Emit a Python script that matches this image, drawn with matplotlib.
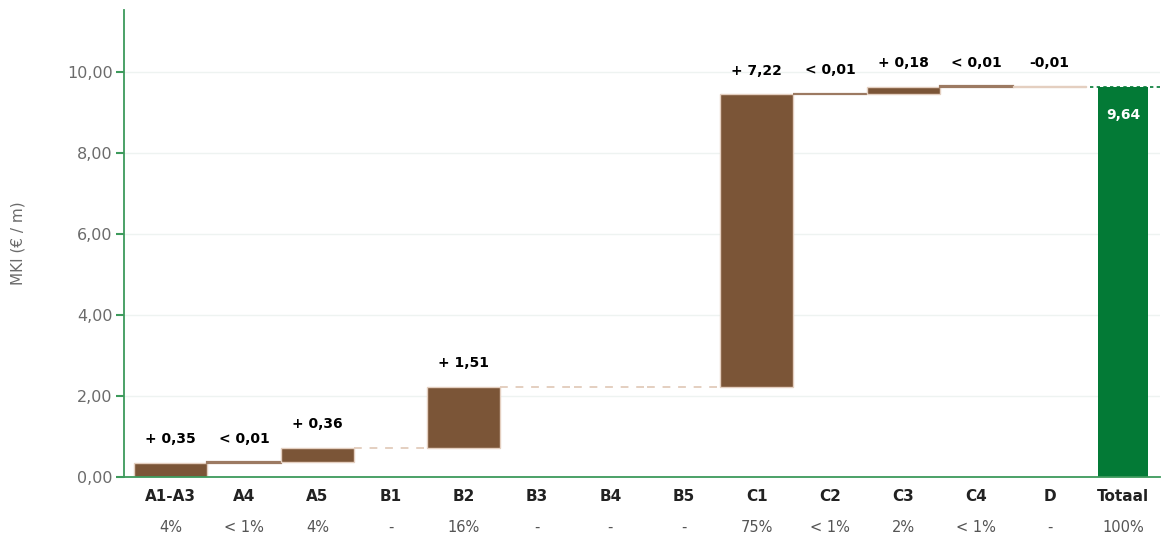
import numpy as np
import matplotlib
matplotlib.use('Agg')
from matplotlib import pyplot as plt
from matplotlib.ticker import FuncFormatter
import matplotlib.transforms as mtransforms

# Data
categories = ['A1-A3', 'A4', 'A5', 'B1', 'B2', 'B3', 'B4', 'B5', 'C1', 'C2', 'C3', 'C4', 'D']
deltas = [0.35, 0.01, 0.36, 0.0, 1.51, 0.0, 0.0, 0.0, 7.22, 0.01, 0.18, 0.01, -0.01]
delta_labels = ['+ 0,35', '< 0,01', '+ 0,36', '', '+ 1,51', '', '', '', '+ 7,22', '< 0,01', '+ 0,18', '< 0,01', '-0,01']
shares = ['4%', '< 1%', '4%', '-', '16%', '-', '-', '-', '75%', '< 1%', '2%', '< 1%', '-']
total_name = 'Totaal'
total_value = 9.64
total_share = '100%'

brown = '#7b5537'
edge = '#e4cfc0'
green = '#037a36'
axis_green = '#3d9a5c'
grey = '#6b6b6b'

fig = plt.figure(figsize=(11.63, 5.4), dpi=100)
ax = fig.add_axes([0.1066, 0.1167, 0.8904, 0.8643])

x = np.arange(len(categories))
cum = np.cumsum(deltas)
starts = cum - np.array(deltas)

for i, d in enumerate(deltas):
    if d == 0:
        ax.plot([i - 0.5, i + 0.5], [cum[i], cum[i]], color=edge, lw=1.4,
                ls=(0, (4, 4)), zorder=1)
        continue
    fc = brown if d > 0 else edge
    ec = edge
    lw = 1.0
    if 0 < d < 0.05:
        ec = '#9c7a62'  # thin bars show as a brown line
        lw = 1.6
    ax.bar(i, d, bottom=starts[i], width=1.0, color=fc, edgecolor=ec,
           linewidth=lw, zorder=2)
    top = max(starts[i], cum[i])
    ax.annotate(delta_labels[i], (i, top), xytext=(0, 17), textcoords='offset points',
                ha='center', va='center', fontsize=10, fontweight='bold', color='black')

# total bar
xt = len(categories)
ax.bar(xt, total_value, width=0.68, color=green, zorder=2)
ax.plot([xt - 0.45, xt + 0.52], [total_value, total_value], color=green, lw=1.2,
        ls=(0, (2, 2)), zorder=3)
ax.annotate(f'{total_value:.2f}'.replace('.', ','), (xt, total_value), xytext=(0, -20),
            textcoords='offset points', ha='center', va='center', fontsize=10,
            fontweight='bold', color='white', zorder=4)

ax.set_xlim(-0.64, 13.5)
ax.set_ylim(0, 11.53)
ax.set_yticks([0, 2, 4, 6, 8, 10])
ax.yaxis.set_major_formatter(FuncFormatter(lambda v, p: f'{v:.2f}'.replace('.', ',')))
ax.grid(axis='y', color='#eef3f1', lw=1.0, zorder=0)
ax.set_axisbelow(True)

ax.set_xticks(list(x) + [xt])
ax.set_xticklabels(categories + [total_name], fontsize=11, fontweight='bold', color='#222222')
ax.tick_params(axis='x', length=0, pad=9)
ax.tick_params(axis='y', length=6, width=1.5, color=axis_green, labelsize=11.5,
               labelcolor=grey, pad=2)

trans = mtransforms.blended_transform_factory(ax.transData, ax.transAxes)
for i, s in enumerate(shares + [total_share]):
    ax.text(i, -0.108, s, transform=trans, ha='center', va='center', fontsize=10.5,
            color='#555555')

for side in ['top', 'right']:
    ax.spines[side].set_visible(False)
ax.spines['left'].set_color(axis_green)
ax.spines['bottom'].set_color(axis_green)
ax.spines['left'].set_linewidth(1.3)
ax.spines['bottom'].set_linewidth(1.3)

ax.set_ylabel('MKI (€ / m)', fontsize=11, color=grey, labelpad=30)

plt.savefig('out.png', dpi=100)
